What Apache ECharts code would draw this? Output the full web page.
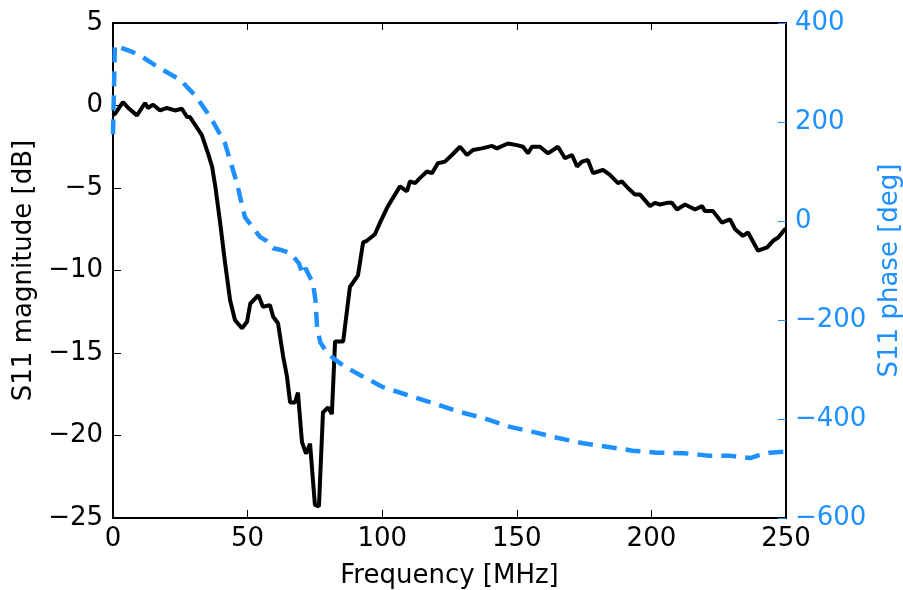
<!DOCTYPE html>
<html>
<head>
<meta charset="utf-8">
<script src="https://cdn.jsdelivr.net/npm/echarts@6/dist/echarts.min.js"></script>
<style>html,body{margin:0;padding:0;background:#fff;overflow:hidden;width:903px;height:590px}#c{width:903px;height:590px;display:block}</style>
</head>
<body>
<div id="c"></div>
<script>
// S11 magnitude [dB] vs frequency [MHz]
const magFreq = [0,1,3.7,6,8.9,11.9,13,14.9,17.5,20,23,25.6,27.5,28.6,31,33,35.3,36.8,38,39.8,41.6,43.5,45.3,47.9,49.8,51,54,55.7,58.3,59.5,61.3,63.2,64.6,65.8,67.6,68.7,70.2,71.7,73.2,75,76.5,78,79.9,81.3,82.5,85.5,88,91,92.9,94.3,97.3,99.2,101.8,104,106.6,109.2,110.3,112.2,114,116.6,118.5,120.7,123.3,125.9,128.9,131.5,133.7,137,140.8,142.6,146.7,150,152.3,154.2,155.6,158.6,161.6,165.3,167.9,170.5,172.4,174.2,176.4,178.3,180.2,182,184.6,187.6,189,191.3,193.9,195.8,199.5,201.3,203.2,205.8,207.6,209.5,212.5,216.2,218.8,219.9,222.9,226.2,229.2,231.1,234,235.9,239.6,243,245.2,247.1,249.6,250];
const magDb = [-0.6,-0.45,0.2,-0.2,-0.6,0.15,-0.15,0.05,-0.3,-0.15,-0.3,-0.2,-0.7,-0.7,-1.3,-1.8,-2.9,-3.7,-4.9,-7.1,-9.5,-11.8,-13,-13.5,-13.1,-12,-11.5,-12.2,-12.1,-12.8,-13.2,-15.2,-16.4,-18,-18,-17.4,-20.4,-21.1,-20.5,-24.2,-24.3,-18.6,-18.3,-18.7,-14.3,-14.3,-11,-10.3,-8.3,-8.2,-7.8,-7.1,-6.2,-5.6,-4.9,-5.2,-4.6,-4.7,-4.4,-4.0,-4.1,-3.5,-3.4,-3.0,-2.5,-3.0,-2.7,-2.6,-2.45,-2.6,-2.3,-2.4,-2.5,-2.9,-2.5,-2.5,-2.9,-2.5,-3.2,-3.0,-3.7,-3.4,-3.3,-4.1,-4.0,-3.9,-4.2,-4.7,-4.6,-5.0,-5.4,-5.4,-6.1,-5.9,-6.0,-5.9,-5.9,-6.3,-6.0,-6.3,-6.1,-6.4,-6.4,-7.1,-6.9,-7.5,-7.9,-7.7,-8.8,-8.6,-8.2,-8.0,-7.5,-7.5];

// S11 phase [deg] vs frequency [MHz]
const phaseFreq = [0,0.7,3,7.4,11,15.6,18.6,25,31,36.8,41.6,46,49,51.5,54.6,57,59.5,62,65.8,67,69,70.5,71.5,73,74.3,75.2,75.8,77,79,82,85.5,91.7,100,109,119,129,137.5,147.5,156,165,174.6,183.5,193,202,212,221,229,236.7,240,244,250];
const phaseDeg = [175,355,350,341,331,315,305,285,251,204,157,77,8,-10,-32,-40,-55,-58,-65,-72,-85,-108,-95,-112,-125,-160,-214,-245,-262,-278,-292,-311,-335,-351,-368,-386,-398,-416,-426,-438,-449,-456,-464,-468,-469,-474,-474,-479,-473,-468,-466];

const xTicks = {min: 0, max: 250, interval: 50};
const leftTicks = {min: -25, max: 5, interval: 5};
const rightTicks = {min: -600, max: 400, interval: 200};

const BLUE = '#1E90FF';
const FONT = '"DejaVu Sans"';
const FS = 26;

const chart = echarts.init(document.getElementById('c'), null, {renderer: 'canvas', width: 903, height: 590});
chart.setOption({
  animation: false,
  backgroundColor: '#fff',
  grid: {left: 113, right: 117, top: 23, bottom: 72, containLabel: false, outerBoundsMode: 'none'},
  xAxis: [{
    type: 'value', min: xTicks.min, max: xTicks.max, interval: xTicks.interval,
    position: 'bottom',
    name: 'Frequency [MHz]', nameLocation: 'middle', nameGap: 45,
    nameTextStyle: {fontFamily: FONT, fontSize: FS, color: '#000'},
    axisLine: {show: true, onZero: false, lineStyle: {color: '#000', width: 2}},
    axisTick: {show: true, inside: true, length: 8, lineStyle: {color: '#000', width: 1}},
    axisLabel: {fontFamily: FONT, fontSize: FS, color: '#000', margin: 8},
    splitLine: {show: false}
  }, {
    type: 'value', min: xTicks.min, max: xTicks.max, interval: xTicks.interval,
    position: 'top',
    axisLine: {show: true, onZero: false, lineStyle: {color: '#000', width: 2}},
    axisTick: {show: true, inside: true, length: 7, lineStyle: {color: '#000', width: 1}},
    axisLabel: {show: false},
    splitLine: {show: false}
  }],
  yAxis: [{
    type: 'value', min: leftTicks.min, max: leftTicks.max, interval: leftTicks.interval,
    position: 'left',
    name: 'S11 magnitude [dB]', nameLocation: 'middle', nameGap: 73, nameRotate: 90,
    nameTextStyle: {fontFamily: FONT, fontSize: FS, color: '#000'},
    axisLine: {show: true, onZero: false, lineStyle: {color: '#000', width: 2}},
    axisTick: {show: true, inside: true, length: 8, lineStyle: {color: '#000', width: 1}},
    axisLabel: {fontFamily: FONT, fontSize: FS, color: '#000', margin: 10,
      formatter: v => String(v).replace('-', '\u2212')},
    splitLine: {show: false}
  }, {
    type: 'value', min: rightTicks.min, max: rightTicks.max, interval: rightTicks.interval,
    position: 'right',
    name: 'S11 phase [deg]', nameLocation: 'middle', nameGap: 86, nameRotate: 90,
    nameTextStyle: {fontFamily: FONT, fontSize: FS, color: BLUE},
    axisLine: {show: true, onZero: false, lineStyle: {color: '#000', width: 2}},
    axisTick: {show: true, inside: true, length: 8, lineStyle: {color: BLUE, width: 1}},
    axisLabel: {fontFamily: FONT, fontSize: FS, color: BLUE, margin: 9,
      formatter: v => String(v).replace('-', '\u2212')},
    splitLine: {show: false}
  }],
  series: [{
    type: 'line', xAxisIndex: 0, yAxisIndex: 0, symbol: 'none',
    data: magFreq.map((f, i) => [f, magDb[i]]),
    lineStyle: {color: '#000', width: 4}, z: 2
  }, {
    type: 'line', xAxisIndex: 0, yAxisIndex: 1, symbol: 'none',
    data: phaseFreq.map((f, i) => [f, phaseDeg[i]]),
    lineStyle: {color: BLUE, width: 4.5, type: [15, 9]}, z: 3
  }]
});
</script>
</body>
</html>
